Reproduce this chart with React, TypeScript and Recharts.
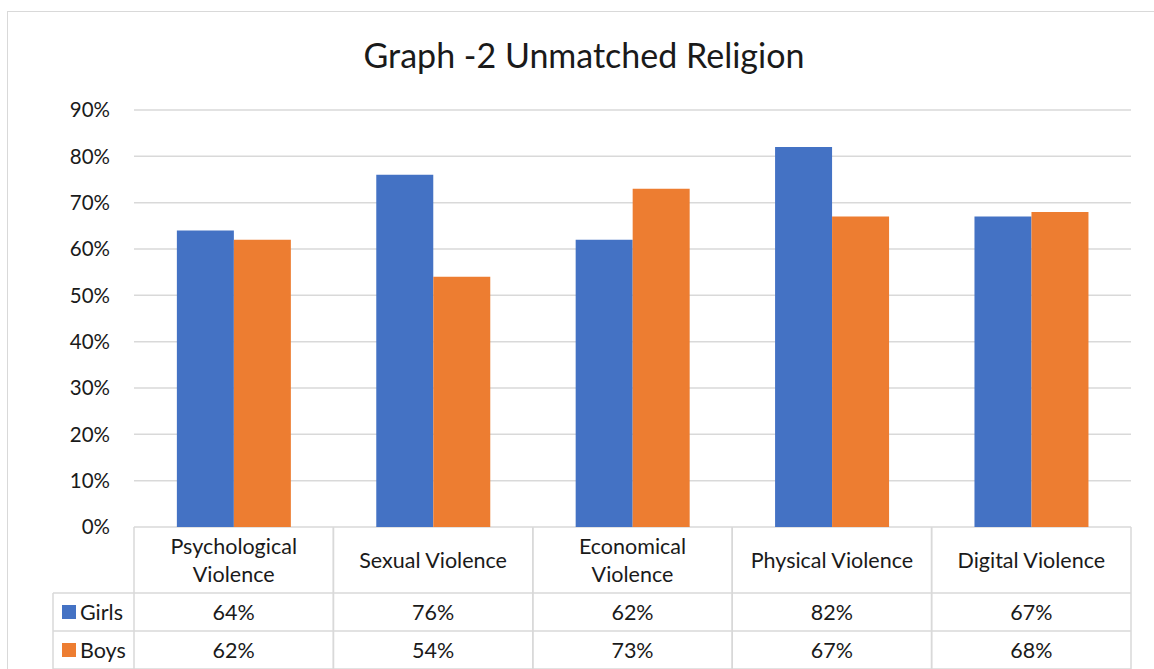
import React from "react";
import { BarChart, Bar, XAxis, YAxis, CartesianGrid } from "recharts";

const categories = [
  "Psychological Violence",
  "Sexual Violence",
  "Economical Violence",
  "Physical Violence",
  "Digital Violence",
];
const girls = [64, 76, 62, 82, 67];
const boys = [62, 54, 73, 67, 68];
const yTicks = [0, 10, 20, 30, 40, 50, 60, 70, 80, 90];

// label lines as shown in the table header
const headerLines: Record<string, string[]> = {
  "Psychological Violence": ["Psychological", "Violence"],
  "Sexual Violence": ["Sexual Violence"],
  "Economical Violence": ["Economical", "Violence"],
  "Physical Violence": ["Physical Violence"],
  "Digital Violence": ["Digital Violence"],
};

const data = categories.map((name, i) => ({ name, girls: girls[i], boys: boys[i] }));

const W = 1154;
const H = 669;
const PLOT_LEFT = 134;
const PLOT_RIGHT = 23;
const PLOT_TOP = 110;
const AXIS_H = 142;
const BAND = (W - PLOT_LEFT - PLOT_RIGHT) / categories.length;
const GRID = "#d9d9d9";
const FONT = "Lato, 'Open Sans', sans-serif";
const BLUE = "#4472C4";
const ORANGE = "#ED7D31";
const HEAD_H = 66;
const ROW_H = 38;
const LEGEND_W = 81;
const TXT_SIZE = 21.5;

const TableTick = (props: any) => {
  const { x, y, payload, index } = props;
  const name: string = payload.value;
  const i = categories.indexOf(name);
  const lines = headerLines[name] || [name];
  const left = x - BAND / 2;
  const right = x + BAND / 2;
  const r1 = y + HEAD_H;
  const r2 = r1 + ROW_H;
  const r3 = r2 + ROW_H;
  const txt = { fontFamily: FONT, fontSize: TXT_SIZE, fill: "#1a1a1a" };
  return (
    <g>
      <line x1={left} x2={left} y1={y} y2={r3} stroke={GRID} strokeWidth={1.5} />
      <line x1={right} x2={right} y1={y} y2={r3} stroke={GRID} strokeWidth={1.5} />
      <line x1={left} x2={right} y1={r1} y2={r1} stroke={GRID} strokeWidth={1.5} />
      <line x1={left} x2={right} y1={r2} y2={r2} stroke={GRID} strokeWidth={1.5} />
      <line x1={left} x2={right} y1={r3} y2={r3} stroke={GRID} strokeWidth={1.5} />
      {lines.map((l, k) => (
        <text
          key={k}
          x={x}
          y={y + HEAD_H / 2 + (k - (lines.length - 1) / 2) * 28}
          textAnchor="middle"
          dominantBaseline="central"
          {...txt}
        >
          {l}
        </text>
      ))}
      <text x={x} y={r1 + ROW_H / 2} textAnchor="middle" dominantBaseline="central" {...txt}>
        {girls[i]}%
      </text>
      <text x={x} y={r2 + ROW_H / 2} textAnchor="middle" dominantBaseline="central" {...txt}>
        {boys[i]}%
      </text>
      {index === 0 && (
        <g>
          <line x1={left - LEGEND_W} x2={left} y1={r1} y2={r1} stroke={GRID} strokeWidth={1.5} />
          <line x1={left - LEGEND_W} x2={left} y1={r2} y2={r2} stroke={GRID} strokeWidth={1.5} />
          <line x1={left - LEGEND_W} x2={left} y1={r3} y2={r3} stroke={GRID} strokeWidth={1.5} />
          <line x1={left - LEGEND_W} x2={left - LEGEND_W} y1={r1} y2={r3} stroke={GRID} strokeWidth={1.5} />
          <rect x={left - LEGEND_W + 9} y={r1 + ROW_H / 2 - 7} width={14} height={14} fill={BLUE} />
          <text x={left - LEGEND_W + 27} y={r1 + ROW_H / 2} dominantBaseline="central" {...txt}>
            Girls
          </text>
          <rect x={left - LEGEND_W + 9} y={r2 + ROW_H / 2 - 7} width={14} height={14} fill={ORANGE} />
          <text x={left - LEGEND_W + 27} y={r2 + ROW_H / 2} dominantBaseline="central" {...txt}>
            Boys
          </text>
        </g>
      )}
    </g>
  );
};

export default function App() {
  return (
    <div
      style={{
        position: "absolute",
        left: 0,
        top: 0,
        width: W,
        height: H,
        overflow: "hidden",
        background: "#fff",
      }}
    >
      <div
        style={{
          position: "absolute",
          left: 7,
          top: 11,
          width: W + 20,
          height: H + 20,
          border: `1.5px solid ${GRID}`,
        }}
      />
      <div
        style={{
          position: "absolute",
          left: 0,
          top: 33,
          width: W + 14,
          textAlign: "center",
          fontFamily: FONT,
          fontSize: 34,
          lineHeight: "44px",
          color: "#1a1a1a",
        }}
      >
        Graph -2 Unmatched Religion
      </div>
      <div style={{ position: "absolute", left: 0, top: 0 }}>
        <BarChart
          width={W}
          height={H}
          data={data}
          margin={{ top: PLOT_TOP, right: PLOT_RIGHT, left: 0, bottom: 0 }}
          barGap={0}
          barCategoryGap="21.5%"
        >
          <CartesianGrid vertical={false} stroke={GRID} strokeWidth={1.5} />
          <YAxis
            width={PLOT_LEFT}
            domain={[0, 90]}
            ticks={yTicks}
            interval={0}
            axisLine={false}
            tickLine={false}
            tickSize={0}
            tickMargin={24}
            tickFormatter={(v: number) => `${v}%`}
            tick={{ fontFamily: FONT, fontSize: 20.5, fill: "#1a1a1a" }}
          />
          <XAxis
            dataKey="name"
            height={AXIS_H}
            axisLine={false}
            tickLine={false}
            tickSize={0}
            tickMargin={0}
            interval={0}
            tick={<TableTick />}
          />
          <Bar dataKey="girls" fill={BLUE} isAnimationActive={false} />
          <Bar dataKey="boys" fill={ORANGE} isAnimationActive={false} />
        </BarChart>
      </div>
    </div>
  );
}
